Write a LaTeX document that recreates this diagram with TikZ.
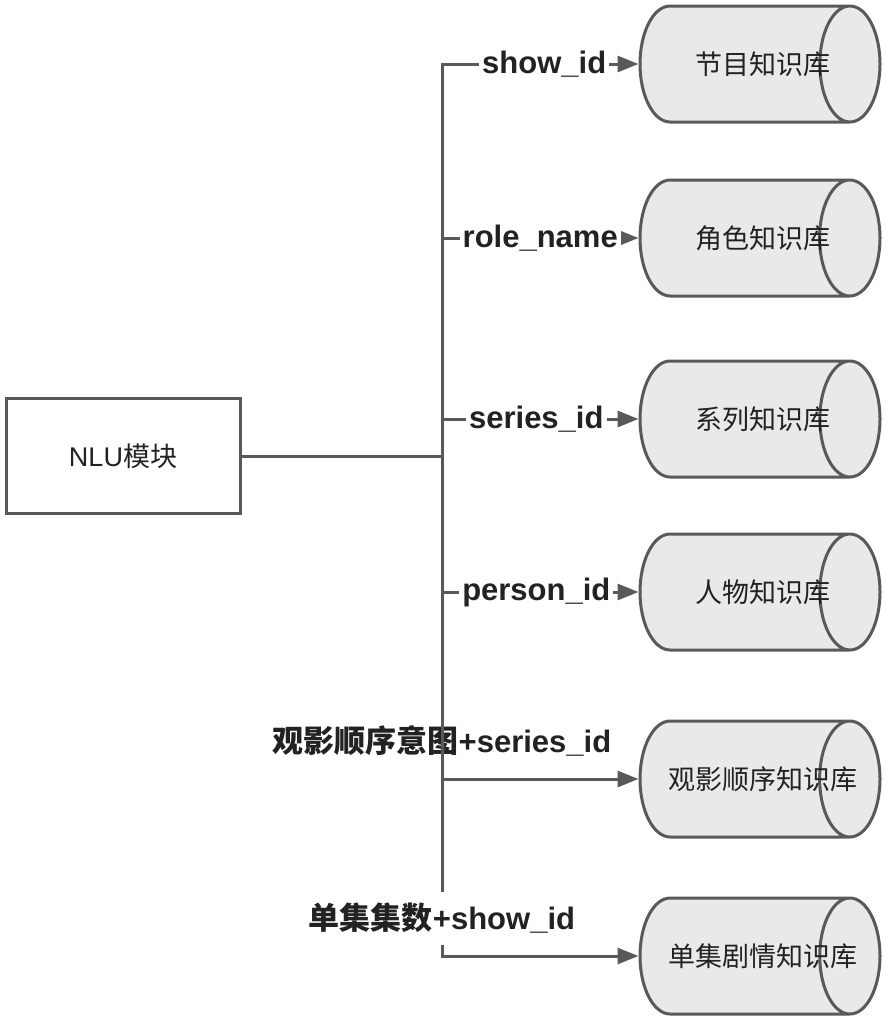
\documentclass[tikz,border=0pt]{standalone}
\usepackage{fontspec}
\setmainfont{Liberation Sans}
\newfontfamily\cjk{Noto Sans CJK SC}
\usetikzlibrary{shapes.geometric,arrows.meta}
\definecolor{edgegray}{HTML}{595959}
\definecolor{dbfill}{HTML}{E8E9E8}
\definecolor{txt}{HTML}{222222}
\newcommand{\kbname}[1]{\makebox[0pt]{\hspace{48pt}#1}}

\begin{document}
\begin{tikzpicture}[x=1pt,y=-1pt,
    link/.style={draw=edgegray,line width=3pt,-{Triangle[length=21pt,width=16pt]}},
    kb/.style={cylinder,draw=edgegray,line width=3pt,fill=dbfill,anchor=shape center,
      minimum width=116pt,minimum height=240pt,aspect=1.9,
      font=\cjk\fontsize{27}{31}\selectfont,text=txt},
    key/.style={fill=white,inner xsep=3pt,inner ysep=11pt,
      font=\bfseries\fontsize{31}{36}\selectfont,text=txt}]
    \useasboundingbox (0,0) rectangle (890,1020);
    % module and knowledge bases
    \node[draw=edgegray,line width=3pt,minimum width=234pt,minimum height=115pt,
      font=\fontsize{27}{31}\selectfont,text=txt] (nlu) at (123,456) {NLU{\cjk 模块}};
    \node[kb] (show) at (760,64) {\kbname{节目知识库}};
    \node[kb] (role) at (760,238) {\kbname{角色知识库}};
    \node[kb] (series) at (760,419) {\kbname{系列知识库}};
    \node[kb] (person) at (760,592) {\kbname{人物知识库}};
    \node[kb] (order) at (760,779) {\kbname{观影顺序知识库}};
    \node[kb] (episode) at (760,956) {\kbname{单集剧情知识库}};
    \coordinate (jn) at (442,456);
    % links
    \draw[link] (nlu.east) -- (jn) |- (show.west) node[key,pos=0.76] {show\_id};
    \draw[link] (nlu.east) -- (jn) |- (role.west) node[key,pos=0.75] {role\_name};
    \draw[link] (nlu.east) -- (jn) |- (series.west) node[key,pos=0.74] {series\_id};
    \draw[link] (nlu.east) -- (jn) |- (person.west) node[key,pos=0.74] {person\_id};
    \draw[link] (nlu.east) -- (jn) |- (order.west)
      node[key,pos=0.5,above=10pt] {{\cjk 观影顺序意图}+series\_id};
    \draw[link] (nlu.east) -- (jn) |- (episode.west)
      node[key,pos=0.5,above=10pt] {{\cjk 单集集数}+show\_id};
  \end{tikzpicture}
\end{document}
